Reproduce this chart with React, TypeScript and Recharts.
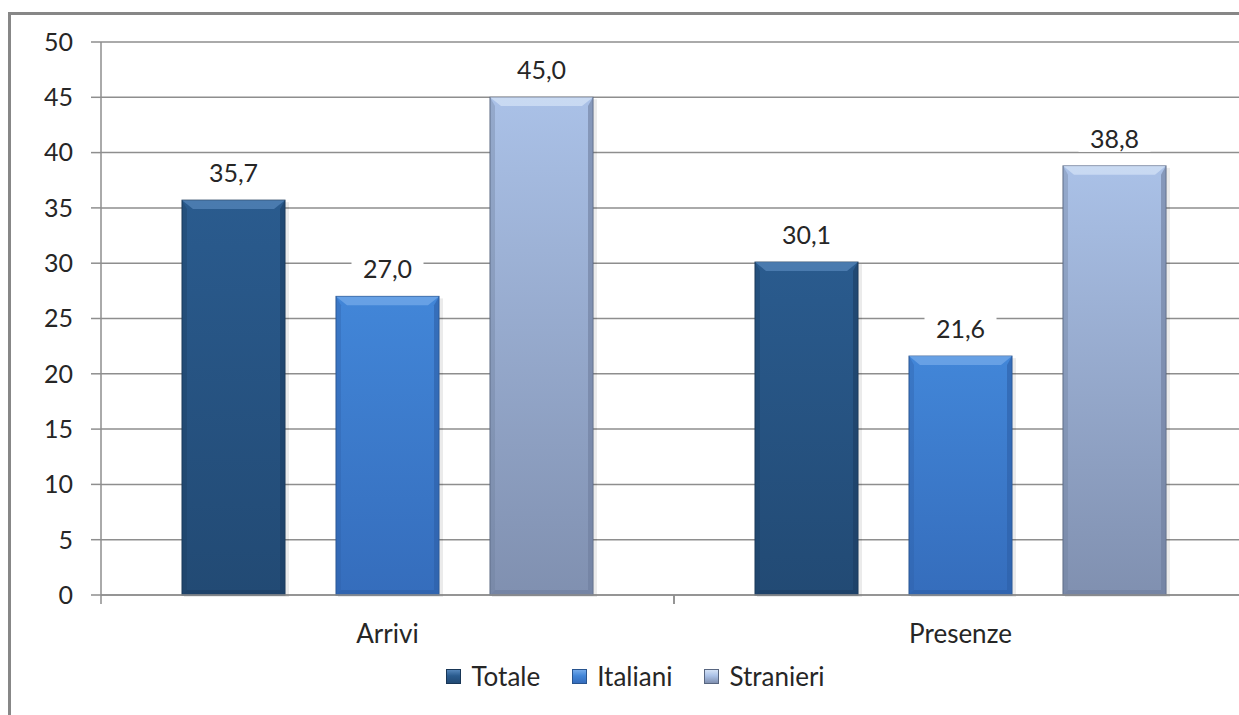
import React from 'react';
import { BarChart, Bar, XAxis, YAxis, CartesianGrid, Legend, LabelList } from 'recharts';

const categories = ['Arrivi', 'Presenze'];
const totale = [35.7, 30.1];
const italiani = [27.0, 21.6];
const stranieri = [45.0, 38.8];
const yTicks = [0, 5, 10, 15, 20, 25, 30, 35, 40, 45, 50];
const seriesNames = ['Totale', 'Italiani', 'Stranieri'];

const data = categories.map((c, i) => ({
  name: c,
  Totale: totale[i],
  Italiani: italiani[i],
  Stranieri: stranieri[i],
}));

const FONT = 'Lato, "Open Sans", sans-serif';
const TEXT = '#262626';
const GRID = '#8e8e8e';
const NUM_SIZE = 25;
const WORD_SIZE = 26;

type Pal = { id: string; top: string; bottom: string; light: string; dark: string; edge: string };
const palettes: Record<string, Pal> = {
  Totale: { id: 'gTot', top: '#2a5b8e', bottom: '#224a74', light: '#5586ba', dark: '#1c3e62', edge: '#183656' },
  Italiani: { id: 'gIta', top: '#4286d8', bottom: '#356dbc', light: '#74aaea', dark: '#2d5fa6', edge: '#28548f' },
  Stranieri: { id: 'gStr', top: '#aac1e7', bottom: '#8090b0', light: '#d3e1f6', dark: '#6e7d9c', edge: '#586680' },
};

const makeShape = (key: string) => (props: any) => {
  const { x, y, width, height } = props;
  const p = palettes[key];
  const b = 11;
  const s = 5;
  return (
    <g>
      <rect x={x + 2} y={y + 2} width={width + 2} height={height} fill="#000" opacity={0.08} />
      <rect x={x} y={y} width={width} height={height} fill={`url(#${p.id})`} stroke={p.edge} strokeWidth={1} />
      <polygon
        points={`${x},${y} ${x + width},${y} ${x + width - b},${y + b * 0.8} ${x + b},${y + b * 0.8}`}
        fill={p.light}
        opacity={0.75}
      />
      <polygon
        points={`${x},${y} ${x + s},${y + b * 0.8} ${x + s},${y + height - s} ${x},${y + height}`}
        fill={p.dark}
        opacity={0.35}
      />
      <polygon
        points={`${x + width},${y} ${x + width - s},${y + b * 0.8} ${x + width - s},${y + height - s} ${x + width},${y + height}`}
        fill={p.dark}
        opacity={0.6}
      />
      <polygon
        points={`${x},${y + height} ${x + s},${y + height - s} ${x + width - s},${y + height - s} ${x + width},${y + height}`}
        fill={p.dark}
        opacity={0.6}
      />
    </g>
  );
};

const fmt = (v: number) => v.toFixed(1).replace('.', ',');

const ValueLabel = (props: any) => {
  const { x, y, width, value } = props;
  const cx = x + width / 2;
  const cy = y - 28;
  return (
    <g>
      <rect x={cx - 36} y={cy - 14} width={72} height={28} fill="#ffffff" />
      <text x={cx} y={cy} textAnchor="middle" dominantBaseline="central" fontFamily={FONT} fontSize={NUM_SIZE} fill={TEXT}>
        {fmt(value)}
      </text>
    </g>
  );
};

const CatTick = (props: any) => {
  const { x, y, payload } = props;
  const off = payload && payload.offset ? payload.offset : 286.5;
  return (
    <g>
      <line x1={x - off} y1={y} x2={x - off} y2={y + 9} stroke={GRID} strokeWidth={1.5} />
      <line x1={x + off} y1={y} x2={x + off} y2={y + 9} stroke={GRID} strokeWidth={1.5} />
      <text x={x} y={y + 38} textAnchor="middle" dominantBaseline="central" fontFamily={FONT} fontSize={WORD_SIZE} fill={TEXT}>
        {payload.value}
      </text>
    </g>
  );
};

const LegendContent = () => (
  <div style={{ display: 'flex', justifyContent: 'center', alignItems: 'center', height: 30, fontFamily: FONT, fontSize: WORD_SIZE, color: TEXT }}>
    {seriesNames.map((n, i) => {
      const p = palettes[n];
      return (
        <div key={n} style={{ display: 'flex', alignItems: 'center', marginLeft: i === 0 ? 0 : 32 }}>
          <span
            style={{
              display: 'inline-block',
              width: 15,
              height: 15,
              background: `linear-gradient(${p.light}, ${p.top} 45%, ${p.bottom})`,
              border: `1px solid ${p.edge}`,
              boxSizing: 'border-box',
              marginRight: 10,
            }}
          />
          <span>{n}</span>
        </div>
      );
    })}
  </div>
);

export default function App() {
  return (
    <div style={{ position: 'fixed', top: 0, left: 0, width: 1239, height: 715, overflow: 'hidden', background: '#ffffff' }}>
      <div
        style={{
          position: 'absolute',
          left: 8,
          top: 12,
          width: 1300,
          height: 800,
          borderTop: '3px solid #878787',
          borderLeft: '3px solid #878787',
        }}
      />
      <div style={{ position: 'absolute', left: 0, top: 0 }}>
        <BarChart
          width={1260}
          height={715}
          data={data}
          margin={{ top: 42, right: 13, left: 0, bottom: 50 }}
          barSize={103}
          barGap={51}
        >
          <defs>
            {seriesNames.map((n) => {
              const p = palettes[n];
              return (
                <linearGradient key={p.id} id={p.id} x1="0" y1="0" x2="0" y2="1">
                  <stop offset="0%" stopColor={p.top} />
                  <stop offset="100%" stopColor={p.bottom} />
                </linearGradient>
              );
            })}
          </defs>
          <CartesianGrid vertical={false} stroke={GRID} strokeWidth={1.5} />
          <XAxis
            dataKey="name"
            axisLine={{ stroke: GRID, strokeWidth: 1.5 }}
            tickLine={false}
            tickSize={0}
            tickMargin={0}
            height={40}
            tick={<CatTick />}
            interval={0}
          />
          <YAxis
            domain={[0, 50]}
            ticks={yTicks}
            interval={0}
            width={101}
            axisLine={{ stroke: GRID, strokeWidth: 1.5 }}
            tickLine={{ stroke: GRID, strokeWidth: 1.5 }}
            tickSize={10}
            tickMargin={18}
            tick={{ fontFamily: FONT, fontSize: NUM_SIZE, fill: TEXT }}
          />
          <Legend
            verticalAlign="bottom"
            content={<LegendContent />}
            wrapperStyle={{ top: 661, left: 16, width: 1239, height: 30 }}
          />
          {seriesNames.map((n) => (
            <Bar key={n} dataKey={n} shape={makeShape(n)} isAnimationActive={false}>
              <LabelList dataKey={n} content={<ValueLabel />} />
            </Bar>
          ))}
        </BarChart>
      </div>
    </div>
  );
}
